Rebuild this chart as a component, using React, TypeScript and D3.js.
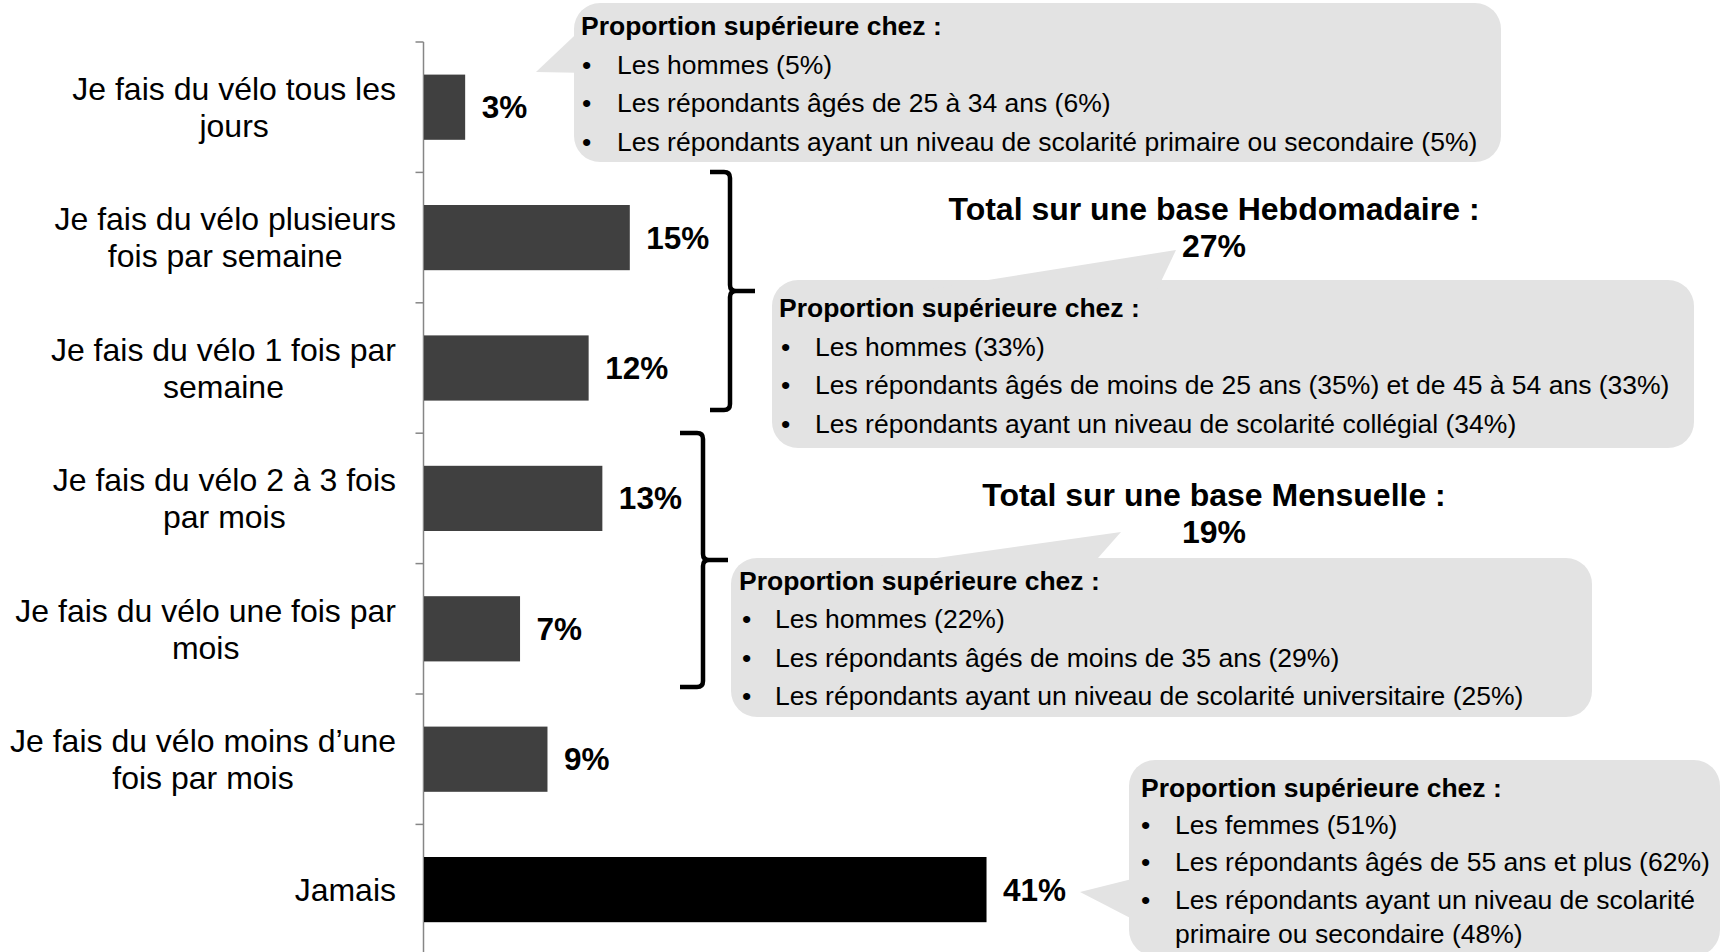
import React, { useEffect, useRef } from "react";
import * as d3 from "d3";

const categories: string[][] = [
  ["Je fais du vélo tous les", "jours"],
  ["Je fais du vélo plusieurs", "fois par semaine"],
  ["Je fais du vélo 1 fois par", "semaine"],
  ["Je fais du vélo 2 à 3 fois", "par mois"],
  ["Je fais du vélo une fois par", "mois"],
  ["Je fais du vélo moins d’une", "fois par mois"],
  ["Jamais"],
];
const values: number[] = [3, 15, 12, 13, 7, 9, 41];
const barColors: string[] = ["#404040", "#404040", "#404040", "#404040", "#404040", "#404040", "#000000"];

const header = "Proportion supérieure chez :";
const callout1: string[][] = [
  ["Les hommes (5%)"],
  ["Les répondants âgés de 25 à 34 ans (6%)"],
  ["Les répondants ayant un niveau de scolarité primaire ou secondaire (5%)"],
];
const callout2: string[][] = [
  ["Les hommes (33%)"],
  ["Les répondants âgés de moins de 25 ans (35%) et de 45 à 54 ans (33%)"],
  ["Les répondants ayant un niveau de scolarité collégial (34%)"],
];
const callout3: string[][] = [
  ["Les hommes (22%)"],
  ["Les répondants âgés de moins de 35 ans (29%)"],
  ["Les répondants ayant un niveau de scolarité universitaire (25%)"],
];
const callout4: string[][] = [
  ["Les femmes (51%)"],
  ["Les répondants âgés de 55 ans et plus (62%)"],
  ["Les répondants ayant un niveau de scolarité", "primaire ou secondaire (48%)"],
];
const totalTitles: string[][] = [
  ["Total sur une base Hebdomadaire :", "27%"],
  ["Total sur une base Mensuelle :", "19%"],
];

const FONT = "'Liberation Sans', Arial, sans-serif";
const CFS = 26.5;

export default function App() {
  const ref = useRef<SVGSVGElement | null>(null);

  useEffect(() => {
    const svg = d3.select(ref.current);
    svg.selectAll("*").remove();

    const axisX = 423.5;
    const x = d3.scaleLinear().domain([0, 50]).range([axisX, axisX + 686]);
    const y = d3
      .scaleBand<number>()
      .domain(d3.range(categories.length))
      .range([42, 42 + 7 * 130.4])
      .paddingInner(0.5)
      .paddingOuter(0.25);
    const step = y.step();
    const top = 42;

    const drawCallout = (
      rect: [number, number, number, number],
      wedge: [number, number][],
      lines: string[][],
      hx: number,
      bx: number,
      tx: number,
      ys: number[]
    ) => {
      const g = svg.append("g");
      g.append("rect")
        .attr("x", rect[0])
        .attr("y", rect[1])
        .attr("width", rect[2] - rect[0])
        .attr("height", rect[3] - rect[1])
        .attr("rx", 26)
        .attr("fill", "#e3e3e3");
      g.append("path")
        .attr("d", d3.line()(wedge) + "Z")
        .attr("fill", "#e3e3e3");
      g.append("text")
        .attr("x", hx)
        .attr("y", ys[0])
        .attr("dy", "0.35em")
        .attr("font-family", FONT)
        .attr("font-size", CFS)
        .attr("font-weight", "bold")
        .attr("fill", "#000")
        .text(header);
      let k = 1;
      lines.forEach((item) => {
        g.append("text")
          .attr("x", bx)
          .attr("y", ys[k])
          .attr("dy", "0.35em")
          .attr("font-family", FONT)
          .attr("font-size", CFS)
          .attr("fill", "#000")
          .text("•");
        item.forEach((ln) => {
          g.append("text")
            .attr("x", tx)
            .attr("y", ys[k])
            .attr("dy", "0.35em")
            .attr("font-family", FONT)
            .attr("font-size", CFS)
            .attr("fill", "#000")
            .text(ln);
          k++;
        });
      });
    };

    drawCallout(
      [574, 3, 1501, 162],
      [[536, 72], [590, 21], [590, 73]],
      callout1,
      581, 582, 617,
      [26, 65, 103, 142]
    );
    drawCallout(
      [772, 280, 1694, 448],
      [[1176, 250], [925, 290], [1157, 290]],
      callout2,
      779, 781, 815,
      [308, 346.5, 385, 423.5]
    );
    drawCallout(
      [731, 558, 1592, 717],
      [[1121, 532], [873, 567], [1090, 567]],
      callout3,
      739, 742, 775,
      [581, 619, 658, 696]
    );
    drawCallout(
      [1129, 760, 1720, 956],
      [[1080, 892], [1140, 877], [1140, 923]],
      callout4,
      1141, 1141, 1175,
      [788, 825, 862, 900, 934]
    );

    const titleYs = [[209, 246], [495, 532]];
    totalTitles.forEach((t, i) => {
      t.forEach((ln, j) => {
        svg
          .append("text")
          .attr("x", 1214)
          .attr("y", titleYs[i][j])
          .attr("dy", "0.35em")
          .attr("text-anchor", "middle")
          .attr("font-family", FONT)
          .attr("font-size", 32)
          .attr("font-weight", "bold")
          .attr("fill", "#000")
          .text(ln);
      });
    });

    const brace = (xl: number, xv: number, xt: number, y0: number, y1: number) => {
      const ym = (y0 + y1) / 2;
      const r = 6;
      const d =
        `M${xl},${y0} H${xv - r} Q${xv},${y0} ${xv},${y0 + r} V${ym - r} Q${xv},${ym} ${xv + r},${ym} H${xt}` +
        ` M${xv + r},${ym} Q${xv},${ym} ${xv},${ym + r} V${y1 - r} Q${xv},${y1} ${xv - r},${y1} H${xl}`;
      svg
        .append("path")
        .attr("d", d)
        .attr("fill", "none")
        .attr("stroke", "#000")
        .attr("stroke-width", 4.5);
    };
    brace(710, 730, 755, 172, 410);
    brace(680, 703, 728, 433, 687);

    svg
      .append("line")
      .attr("x1", axisX)
      .attr("x2", axisX)
      .attr("y1", top)
      .attr("y2", 952)
      .attr("stroke", "#868686")
      .attr("stroke-width", 1.5);
    d3.range(8).forEach((i) => {
      const ty = top + i * step;
      svg
        .append("line")
        .attr("x1", axisX - 8)
        .attr("x2", axisX)
        .attr("y1", ty)
        .attr("y2", ty)
        .attr("stroke", "#868686")
        .attr("stroke-width", 1.5);
    });

    svg
      .append("g")
      .selectAll("rect")
      .data(values)
      .join("rect")
      .attr("x", x(0) + 0.5)
      .attr("y", (_d, i) => y(i) as number)
      .attr("width", (d) => x(d) - x(0))
      .attr("height", y.bandwidth())
      .attr("fill", (_d, i) => barColors[i]);

    svg
      .append("g")
      .selectAll("text")
      .data(values)
      .join("text")
      .attr("x", (d) => x(d) + 17)
      .attr("y", (_d, i) => (y(i) as number) + y.bandwidth() / 2)
      .attr("dy", "0.35em")
      .attr("font-family", FONT)
      .attr("font-size", 31.5)
      .attr("font-weight", "bold")
      .attr("fill", "#000")
      .text((d) => `${d}%`);

    const labelRight = 396;
    const lh = 37;
    categories.forEach((lines, i) => {
      const cy = (y(i) as number) + y.bandwidth() / 2;
      const g = svg.append("g");
      const texts = lines.map((ln, j) =>
        g
          .append("text")
          .attr("y", cy + (j - (lines.length - 1) / 2) * lh)
          .attr("dy", "0.35em")
          .attr("font-family", FONT)
          .attr("font-size", 32)
          .attr("fill", "#000")
          .attr("text-anchor", "middle")
          .text(ln)
      );
      const widths = texts.map((t) => (t.node() as SVGTextElement).getComputedTextLength());
      const maxW = Math.max(...widths);
      const cx = labelRight - maxW / 2;
      texts.forEach((t) => t.attr("x", cx));
    });
  }, []);

  return (
    <svg
      ref={ref}
      width={1725}
      height={952}
      style={{ position: "absolute", left: 0, top: 0, background: "#fff" }}
    />
  );
}
